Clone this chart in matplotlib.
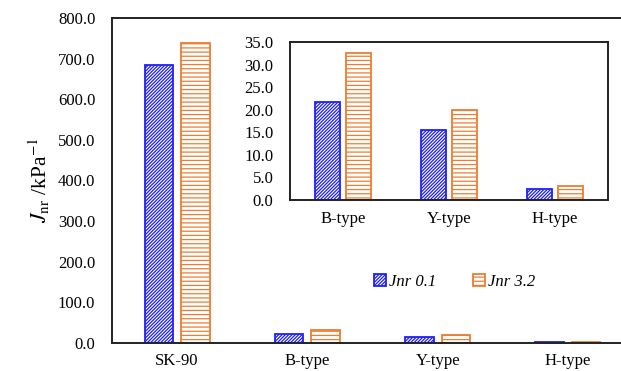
import numpy as np
import matplotlib
matplotlib.use('Agg')
import matplotlib.pyplot as plt

# Non-recoverable creep compliance for each binder
categories = ['SK-90', 'B-type', 'Y-type', 'H-type']
jnr_01 = [684.0, 21.7, 15.5, 2.4]
jnr_32 = [739.0, 32.5, 19.9, 3.0]
main_yticks = [0, 100, 200, 300, 400, 500, 600, 700, 800]
inset_yticks = [0, 5, 10, 15, 20, 25, 30, 35]

blue = '#1f1fff'
orange = '#ed7d31'

plt.rcParams['font.family'] = ['Liberation Serif', 'DejaVu Serif']
plt.rcParams['mathtext.fontset'] = 'stix'
plt.rcParams['hatch.linewidth'] = 0.9

fig = plt.figure(figsize=(6.21, 3.71), dpi=100)

# Main axes runs slightly past the right edge of the figure
ax = fig.add_axes([112 / 621, 28 / 371, 521 / 621, 325 / 371])
x = np.arange(len(categories))
w, off = 0.22, 0.14
ax.bar(x - off, jnr_01, w, facecolor='white', edgecolor=blue, hatch='//////////', linewidth=1.3, label='Jnr 0.1')
ax.bar(x + off, jnr_32, w, facecolor='white', edgecolor=orange, hatch='----', linewidth=1.3, label='Jnr 3.2')
ax.set_xlim(-0.5, 3.5)
ax.set_ylim(0, 800)
ax.set_yticks(main_yticks)
ax.set_yticklabels([f'{v:.1f}' for v in main_yticks])
ax.set_xticks(x)
ax.set_xticklabels(categories)
ax.tick_params(axis='y', length=0, pad=12, labelsize=12)
ax.tick_params(axis='x', length=0, pad=7, labelsize=12)
for s in ax.spines.values():
    s.set_linewidth(1.4)
    s.set_color('#222222')
ax.set_ylabel(r'$J_{\mathrm{nr}}$ /kPa$^{\mathrm{-1}}$', fontsize=15.5, labelpad=4)

leg = ax.legend(loc='center', bbox_to_anchor=((455 - 112) / 521, (343 - 282) / 325),
                ncol=2, frameon=False, prop={'style': 'italic', 'size': 12},
                handlelength=0.7, handleheight=0.7, handletextpad=0.2, columnspacing=2.2)

# Inset for the three modified binders
ins = fig.add_axes([290 / 621, 171 / 371, 318 / 621, 158 / 371])
xi = np.arange(3)
wi, offi = 0.23, 0.145
ins.bar(xi - offi, jnr_01[1:], wi, facecolor='white', edgecolor=blue, hatch='//////////', linewidth=1.3)
ins.bar(xi + offi, jnr_32[1:], wi, facecolor='white', edgecolor=orange, hatch='----', linewidth=1.3)
ins.set_xlim(-0.5, 2.5)
ins.set_ylim(0, 35)
ins.set_yticks(inset_yticks)
ins.set_yticklabels([f'{v:.1f}' for v in inset_yticks])
ins.set_xticks(xi)
ins.set_xticklabels(categories[1:])
ins.tick_params(axis='y', length=0, pad=12, labelsize=12)
ins.tick_params(axis='x', length=0, pad=8, labelsize=12)
for s in ins.spines.values():
    s.set_linewidth(1.4)
    s.set_color('#222222')

fig.savefig('out.png', dpi=100)
